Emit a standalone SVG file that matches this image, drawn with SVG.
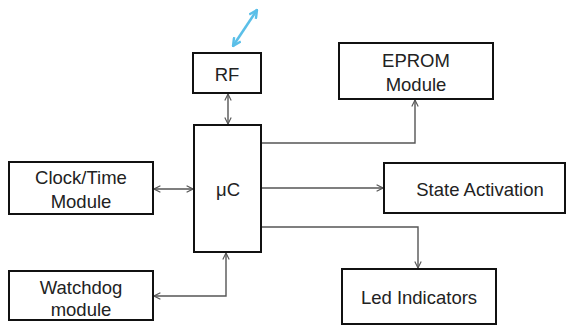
<svg xmlns="http://www.w3.org/2000/svg" width="571" height="327" viewBox="0 0 571 327">
  <defs>
    <style>
      .box { fill: #ffffff; stroke: #111111; stroke-width: 2; }
      .lbl { font-family: "Liberation Sans", Arial, sans-serif; font-size: 18.5px; fill: #222222; text-anchor: middle; }
      .wire { fill: none; stroke: #555555; stroke-width: 1.4; }
      .radio { fill: none; stroke: #5bbfe8; stroke-width: 2.6; }
    </style>
    <marker id="head" viewBox="0 0 10 10" refX="9" refY="5" markerWidth="8" markerHeight="8" orient="auto-start-reverse" markerUnits="userSpaceOnUse">
      <path d="M1,1 L9,5 L1,9" fill="none" stroke="#555555" stroke-width="1.4"/>
    </marker>
    <marker id="headBlue" viewBox="0 0 10 10" refX="9" refY="5" markerWidth="10" markerHeight="10" orient="auto-start-reverse" markerUnits="userSpaceOnUse">
      <path d="M1,1 L9,5 L1,9" fill="none" stroke="#5bbfe8" stroke-width="2.4"/>
    </marker>
  </defs>

  <!-- connectors -->
  <g id="connectors">
    <line class="radio" x1="233" y1="46" x2="257" y2="10" marker-start="url(#headBlue)" marker-end="url(#headBlue)"/>
    <line class="wire" x1="228" y1="94" x2="228" y2="124" marker-start="url(#head)" marker-end="url(#head)"/>
    <line class="wire" x1="154" y1="189" x2="193" y2="189" marker-start="url(#head)" marker-end="url(#head)"/>
    <polyline class="wire" points="154,296 226,296 226,253" marker-start="url(#head)" marker-end="url(#head)"/>
    <polyline class="wire" points="262,143 415,143 415,100" marker-end="url(#head)"/>
    <line class="wire" x1="262" y1="188" x2="383" y2="188" marker-end="url(#head)"/>
    <polyline class="wire" points="262,227 418,227 418,268" marker-end="url(#head)"/>
  </g>

  <g id="rf">
    <rect class="box" x="193" y="53" width="68" height="40"/>
    <text class="lbl" x="227" y="81">RF</text>
  </g>

  <g id="uc">
    <rect class="box" x="194" y="125" width="67" height="127"/>
    <text class="lbl" x="228" y="196">μC</text>
  </g>

  <g id="clock">
    <rect class="box" x="9" y="162" width="144" height="52"/>
    <text class="lbl" x="81" y="184">Clock/Time</text>
    <text class="lbl" x="81" y="208">Module</text>
  </g>

  <g id="watchdog">
    <rect class="box" x="9" y="271" width="144" height="49"/>
    <text class="lbl" x="81" y="294">Watchdog</text>
    <text class="lbl" x="81" y="316">module</text>
  </g>

  <g id="eprom">
    <rect class="box" x="339" y="43" width="154" height="56"/>
    <text class="lbl" x="416" y="67">EPROM</text>
    <text class="lbl" x="416" y="91">Module</text>
  </g>

  <g id="state">
    <rect class="box" x="384" y="163" width="181" height="50"/>
    <text class="lbl" x="480" y="196">State Activation</text>
  </g>

  <g id="led">
    <rect class="box" x="342" y="269" width="154" height="55"/>
    <text class="lbl" x="419" y="304">Led Indicators</text>
  </g>
</svg>
